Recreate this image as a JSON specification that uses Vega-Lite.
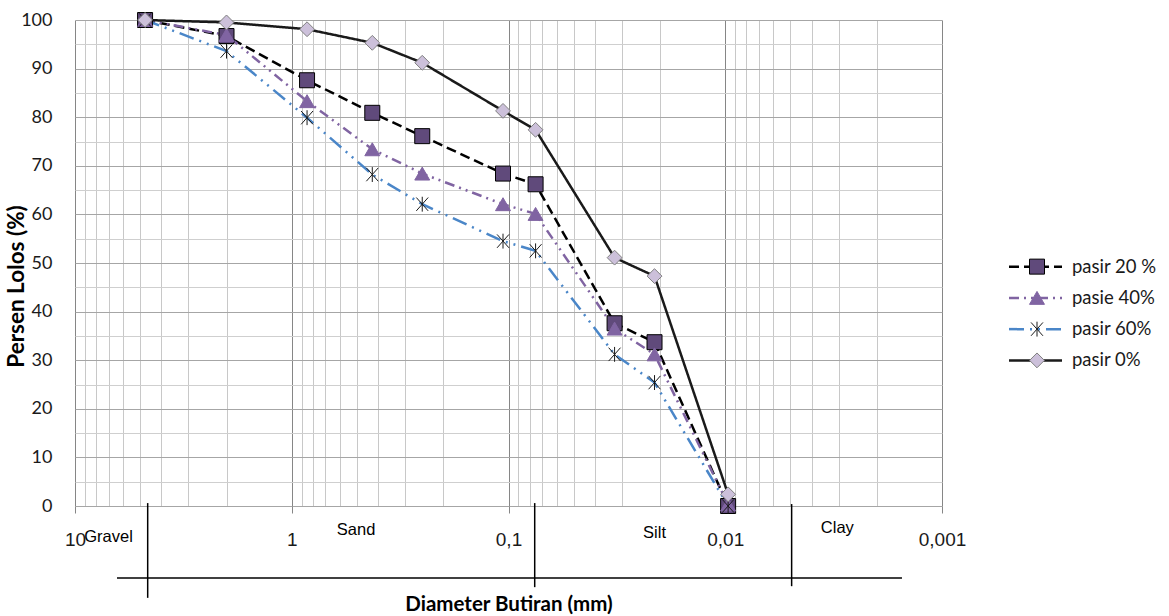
{
  "$schema": "https://vega.github.io/schema/vega-lite/v6.json",
  "padding": {"left": 5, "top": 10, "right": 0, "bottom": 0},
  "background": "white",
  "bounds": "flush",
  "spacing": 62,
  "config": {"view": {"stroke": null}, "font": "Lato"},
  "datasets": {
    "sieve": [
      {"series": "pasir 20 %", "d": 4.75, "p": 100},
      {"series": "pasir 20 %", "d": 2.0, "p": 96.7},
      {"series": "pasir 20 %", "d": 0.85, "p": 87.6},
      {"series": "pasir 20 %", "d": 0.425, "p": 80.9},
      {"series": "pasir 20 %", "d": 0.25, "p": 76.1},
      {"series": "pasir 20 %", "d": 0.106, "p": 68.4},
      {"series": "pasir 20 %", "d": 0.075, "p": 66.2},
      {"series": "pasir 20 %", "d": 0.0324, "p": 37.6},
      {"series": "pasir 20 %", "d": 0.0212, "p": 33.7},
      {"series": "pasir 20 %", "d": 0.0097, "p": 0},
      {"series": "pasie 40%", "d": 4.75, "p": 100},
      {"series": "pasie 40%", "d": 2.0, "p": 96.9},
      {"series": "pasie 40%", "d": 0.85, "p": 83.3},
      {"series": "pasie 40%", "d": 0.425, "p": 73.4},
      {"series": "pasie 40%", "d": 0.25, "p": 68.4},
      {"series": "pasie 40%", "d": 0.106, "p": 62.1},
      {"series": "pasie 40%", "d": 0.075, "p": 60.1},
      {"series": "pasie 40%", "d": 0.0324, "p": 36.5},
      {"series": "pasie 40%", "d": 0.0212, "p": 31.2},
      {"series": "pasie 40%", "d": 0.0097, "p": 0.3},
      {"series": "pasir 60%", "d": 4.75, "p": 100},
      {"series": "pasir 60%", "d": 2.0, "p": 93.6},
      {"series": "pasir 60%", "d": 0.85, "p": 79.9},
      {"series": "pasir 60%", "d": 0.425, "p": 68.2},
      {"series": "pasir 60%", "d": 0.25, "p": 62.1},
      {"series": "pasir 60%", "d": 0.106, "p": 54.5},
      {"series": "pasir 60%", "d": 0.075, "p": 52.5},
      {"series": "pasir 60%", "d": 0.0324, "p": 31.2},
      {"series": "pasir 60%", "d": 0.0212, "p": 25.4},
      {"series": "pasir 60%", "d": 0.0097, "p": 0},
      {"series": "pasir 0%", "d": 4.75, "p": 100},
      {"series": "pasir 0%", "d": 2.0, "p": 99.5},
      {"series": "pasir 0%", "d": 0.85, "p": 98.1},
      {"series": "pasir 0%", "d": 0.425, "p": 95.3},
      {"series": "pasir 0%", "d": 0.25, "p": 91.2},
      {"series": "pasir 0%", "d": 0.106, "p": 81.3},
      {"series": "pasir 0%", "d": 0.075, "p": 77.4},
      {"series": "pasir 0%", "d": 0.0324, "p": 51.1},
      {"series": "pasir 0%", "d": 0.0212, "p": 47.3},
      {"series": "pasir 0%", "d": 0.0097, "p": 2.4}
    ],
    "zones": [
      {"d": 4.62, "p": 0.6, "d2": 4.62, "p2": -18.9},
      {"d": 0.0757, "p": 0.6, "d2": 0.0757, "p2": -16.7},
      {"d": 0.00494, "p": 0.4, "d2": 0.00494, "p2": -16.5},
      {"d": 6.4, "p": -14.8, "d2": 0.00153, "p2": -14.8}
    ],
    "zoneLabels": [
      {"zone": "Gravel", "d": 7.0, "p": -6.3},
      {"zone": "Sand", "d": 0.505, "p": -4.9},
      {"zone": "Silt", "d": 0.0212, "p": -5.6},
      {"zone": "Clay", "d": 0.00304, "p": -4.5}
    ],
    "legendRows": [
      {"series": "pasir 20 %"},
      {"series": "pasie 40%"},
      {"series": "pasir 60%"},
      {"series": "pasir 0%"}
    ]
  },
  "hconcat": [
    {
      "width": 867,
      "height": 486,
      "encoding": {
        "x": {
          "field": "d",
          "type": "quantitative",
          "scale": {"type": "log", "domain": [0.001, 10], "reverse": true, "nice": false},
          "axis": {
            "title": "Diameter Butiran (mm)",
            "values": [10, 9, 8, 7, 6, 5, 4, 3, 2, 1, 0.9, 0.8, 0.7, 0.6, 0.5, 0.4, 0.3, 0.2, 0.1, 0.09, 0.08, 0.07, 0.06, 0.05, 0.04, 0.03, 0.02, 0.01, 0.009, 0.008, 0.007, 0.006, 0.005, 0.004, 0.003, 0.002, 0.001],
            "format": "~g",
            "labelExpr": "indexof([10, 1, 0.1, 0.01, 0.001], datum.value) >= 0 ? replace(datum.label, '.', ',') : ''",
            "labelFont": "Liberation Sans",
            "labelFontSize": 19,
            "labelColor": "#1a1a1a",
            "labelPadding": 17,
            "labelOverlap": false,
            "labelFlush": false,
            "tickSize": 7,
            "tickColor": {"condition": {"test": "indexof([10, 1, 0.1, 0.01, 0.001], datum.value) >= 0", "value": "#868686"}, "value": "transparent"},
            "domain": false,
            "grid": true,
            "gridColor": {"condition": {"test": "indexof([10, 1, 0.1, 0.01, 0.001], datum.value) >= 0", "value": "#868686"}, "value": "#c8c8c8"},
            "gridWidth": 1,
            "titleFont": "Lato",
            "titleFontWeight": "bold",
            "titleFontSize": 20.5,
            "titleColor": "#000000",
            "titleY": 98,
            "titleBaseline": "middle"
          }
        },
        "y": {
          "field": "p",
          "type": "quantitative",
          "scale": {"domain": [0, 100], "nice": false, "zero": false},
          "axis": {
            "title": "Persen Lolos (%)",
            "values": [0, 5, 10, 15, 20, 25, 30, 35, 40, 45, 50, 55, 60, 65, 70, 75, 80, 85, 90, 95, 100],
            "labelExpr": "datum.value % 10 === 0 ? datum.label : ''",
            "ticks": false,
            "tickSize": 0,
            "domain": false,
            "labelPadding": 23,
            "labelFont": "Lato",
            "labelFontSize": 18,
            "labelColor": "#1a1a1a",
            "grid": true,
            "gridColor": {"condition": {"test": "datum.value % 10 === 0", "value": "#a6a6a6"}, "value": "#cfcfcf"},
            "gridWidth": 1,
            "titleFont": "Lato",
            "titleFontWeight": "bold",
            "titleFontSize": 22.5,
            "titleColor": "#000000",
            "titleAngle": 270,
            "titleX": -59,
            "titleY": 266,
            "titleAlign": "center",
            "titleBaseline": "middle"
          }
        }
      },
      "layer": [
        {
          "data": {"name": "zones"},
          "mark": {"type": "rule", "color": "#000000", "strokeWidth": 1.5},
          "encoding": {"x2": {"field": "d2"}, "y2": {"field": "p2"}}
        },
        {
          "data": {"name": "zoneLabels"},
          "mark": {"type": "text", "font": "Liberation Sans", "fontSize": 16.5, "color": "#000000", "baseline": "middle", "align": "center"},
          "encoding": {"text": {"field": "zone"}}
        },
        {
          "data": {"name": "sieve"},
          "mark": {"type": "line"},
          "encoding": {
            "color": {"field": "series", "type": "nominal", "scale": {"domain": ["pasir 20 %", "pasie 40%", "pasir 60%", "pasir 0%"], "range": ["#000000", "#8064a2", "#4a86c8", "#1a1a1a"]}, "legend": null},
            "strokeDash": {"field": "series", "type": "nominal", "scale": {"domain": ["pasir 20 %", "pasie 40%", "pasir 60%", "pasir 0%"], "range": [[10, 5], [10, 5, 2, 5, 2, 5], [15, 6, 2, 6, 2, 6], [1, 0]]}, "legend": null},
            "strokeWidth": {"field": "series", "type": "ordinal", "scale": {"domain": ["pasir 20 %", "pasie 40%", "pasir 60%", "pasir 0%"], "range": [2.5, 2.5, 2.5, 1]}, "legend": null}
          }
        },
        {
          "data": {"name": "sieve"},
          "mark": {"type": "point", "opacity": 1, "strokeWidth": 1},
          "encoding": {
            "shape": {"field": "series", "type": "nominal", "scale": {"domain": ["pasir 20 %", "pasie 40%", "pasir 60%", "pasir 0%"], "range": ["square", "triangle-up", "M-0.8,-0.9L0.8,0.9M-0.8,0.9L0.8,-0.9M0,-1L0,1", "diamond"]}, "legend": null},
            "fill": {"field": "series", "type": "nominal", "scale": {"domain": ["pasir 20 %", "pasie 40%", "pasir 60%", "pasir 0%"], "range": ["#604a7b", "#8064a2", "transparent", "#ccc0da"]}, "legend": null},
            "stroke": {"field": "series", "type": "nominal", "scale": {"domain": ["pasir 20 %", "pasie 40%", "pasir 60%", "pasir 0%"], "range": ["#000000", "#8064a2", "#1a1a1a", "#808080"]}, "legend": null},
            "size": {"field": "series", "type": "ordinal", "scale": {"domain": ["pasir 20 %", "pasie 40%", "pasir 60%", "pasir 0%"], "range": [225, 220, 520, 200]}, "legend": null}
          }
        }
      ]
    },
    {
      "width": 164,
      "height": 486,
      "data": {"name": "legendRows"},
      "encoding": {
        "y": {"field": "series", "type": "nominal", "scale": {"type": "point", "domain": ["pasir 20 %", "pasie 40%", "pasir 60%", "pasir 0%"], "range": [231, 356]}, "axis": null}
      },
      "layer": [
        {
          "mark": {"type": "rule"},
          "encoding": {
            "x": {"datum": 5, "type": "quantitative", "scale": {"domain": [0, 164], "nice": false, "zero": false}, "axis": null},
            "x2": {"datum": 58},
            "color": {"field": "series", "type": "nominal", "scale": {"domain": ["pasir 20 %", "pasie 40%", "pasir 60%", "pasir 0%"], "range": ["#000000", "#8064a2", "#4a86c8", "#1a1a1a"]}, "legend": null},
            "strokeDash": {"field": "series", "type": "nominal", "scale": {"domain": ["pasir 20 %", "pasie 40%", "pasir 60%", "pasir 0%"], "range": [[10, 5], [10, 5, 2, 5, 2, 5], [15, 6, 2, 6, 2, 6], [1, 0]]}, "legend": null},
            "strokeWidth": {"field": "series", "type": "ordinal", "scale": {"domain": ["pasir 20 %", "pasie 40%", "pasir 60%", "pasir 0%"], "range": [2.5, 2.5, 2.5, 1]}, "legend": null}
          }
        },
        {
          "mark": {"type": "point", "opacity": 1, "strokeWidth": 1},
          "encoding": {
            "x": {"datum": 33, "type": "quantitative"},
            "shape": {"field": "series", "type": "nominal", "scale": {"domain": ["pasir 20 %", "pasie 40%", "pasir 60%", "pasir 0%"], "range": ["square", "triangle-up", "M-0.8,-0.9L0.8,0.9M-0.8,0.9L0.8,-0.9M0,-1L0,1", "diamond"]}, "legend": null},
            "fill": {"field": "series", "type": "nominal", "scale": {"domain": ["pasir 20 %", "pasie 40%", "pasir 60%", "pasir 0%"], "range": ["#604a7b", "#8064a2", "transparent", "#ccc0da"]}, "legend": null},
            "stroke": {"field": "series", "type": "nominal", "scale": {"domain": ["pasir 20 %", "pasie 40%", "pasir 60%", "pasir 0%"], "range": ["#000000", "#8064a2", "#1a1a1a", "#808080"]}, "legend": null},
            "size": {"field": "series", "type": "ordinal", "scale": {"domain": ["pasir 20 %", "pasie 40%", "pasir 60%", "pasir 0%"], "range": [225, 220, 520, 200]}, "legend": null}
          }
        },
        {
          "mark": {"type": "text", "align": "left", "baseline": "middle", "font": "Lato", "fontSize": 18.5, "color": "#1a1a1a"},
          "encoding": {
            "x": {"datum": 68, "type": "quantitative"},
            "text": {"field": "series"}
          }
        }
      ]
    }
  ]
}
